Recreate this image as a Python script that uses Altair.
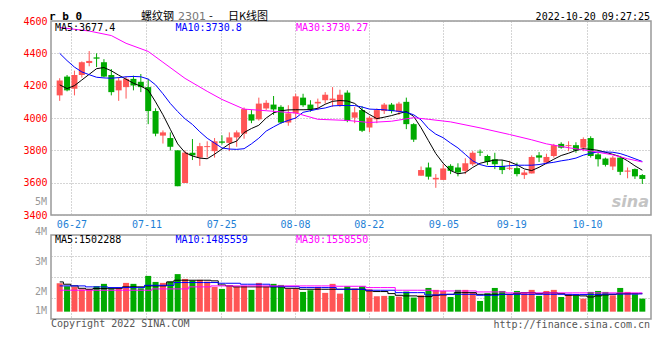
import json
import altair as alt
import pandas as pd

# ---------------- data ----------------
date_labels = ["06-27", "07-11", "07-25", "08-08", "08-22", "09-05", "09-19", "10-10"]
date_slots = [2.09, 12.27, 22.4, 32.4, 42.4, 52.53, 61.73, 72.0]

open_p = [4140, 4256, 4181, 4266, 4340, 4375, 4345, 4266, 4171, 4191,
          4242, 4224, 4191, 4043, 3891, 3876, 3800, 3598, 3785, 3755,
          3820, 3795, 3855, 3846, 3880, 3903, 4023, 3992, 4059, 4083,
          4069, 3972, 4029, 4126, 4083, 4090, 4110, 4110, 4079, 4157,
          4002, 4049, 3941, 3992, 4043, 4083, 4039, 4100, 3962, 3643,
          3694, 3620, 3617, 3704, 3694, 3673, 3714, 3792, 3765, 3745,
          3704, 3686, 3690, 3647, 3657, 3769, 3724, 3765, 3840, 3826,
          3832, 3816, 3876, 3775, 3749, 3700, 3755, 3668, 3684, 3647]
high_p = [4246, 4266, 4293, 4350, 4414, 4400, 4364, 4303, 4252, 4256,
          4262, 4272, 4242, 4060, 3923, 3911, 3800, 3800, 3870, 3846,
          3856, 3876, 3893, 3911, 3923, 4065, 4049, 4126, 4110, 4136,
          4079, 4079, 4150, 4150, 4110, 4120, 4160, 4191, 4175, 4171,
          4069, 4073, 4012, 4059, 4093, 4093, 4100, 4126, 3968, 3700,
          3724, 3653, 3714, 3714, 3720, 3751, 3795, 3805, 3773, 3785,
          3740, 3735, 3724, 3678, 3769, 3789, 3779, 3840, 3850, 3856,
          3850, 3880, 3887, 3785, 3755, 3765, 3765, 3694, 3688, 3653]
low_p = [4106, 4165, 4140, 4250, 4320, 4315, 4252, 4140, 4106, 4120,
         4171, 4160, 3962, 3887, 3842, 3799, 3578, 3598, 3740, 3704,
         3755, 3755, 3836, 3795, 3822, 3872, 3968, 3984, 4049, 4019,
         3964, 3952, 3992, 4069, 4039, 4049, 4089, 4069, 4069, 3974,
         3968, 3913, 3913, 3968, 4025, 4029, 4019, 3931, 3852, 3643,
         3619, 3568, 3617, 3653, 3639, 3653, 3704, 3765, 3708, 3684,
         3653, 3678, 3639, 3623, 3657, 3728, 3714, 3755, 3810, 3795,
         3785, 3795, 3755, 3700, 3700, 3678, 3647, 3627, 3623, 3592]
close_p = [4232, 4171, 4266, 4345, 4353, 4367, 4256, 4160, 4232, 4242,
           4201, 4191, 4043, 3903, 3911, 3822, 3578, 3786, 3769, 3826,
           3826, 3856, 3847, 3880, 3911, 4055, 3984, 4089, 4094, 4053,
           3972, 4029, 4134, 4079, 4053, 4100, 4144, 4120, 4144, 3982,
           4035, 3921, 4002, 4049, 4083, 4043, 4089, 3962, 3866, 3678,
           3637, 3630, 3688, 3673, 3663, 3720, 3785, 3786, 3728, 3714,
           3678, 3692, 3653, 3663, 3759, 3755, 3759, 3832, 3816, 3832,
           3799, 3870, 3765, 3745, 3710, 3755, 3667, 3675, 3639, 3623]

ma5 = [4205, 4182, 4200, 4235, 4270, 4305, 4312, 4292, 4265, 4240,
       4215, 4197, 4173, 4100, 4020, 3930, 3840, 3786, 3765, 3752,
       3748, 3776, 3808, 3840, 3857, 3910, 3935, 3955, 4000, 4032,
       4045, 4050, 4051, 4051, 4052, 4060, 4085, 4103, 4108, 4105,
       4090, 4050, 4022, 3996, 4005, 4015, 4028, 4040, 4010, 3940,
       3860, 3780, 3720, 3675, 3655, 3662, 3694, 3720, 3731, 3740,
       3740, 3729, 3710, 3685, 3675, 3695, 3720, 3745, 3768, 3782,
       3800, 3810, 3806, 3800, 3788, 3775, 3761, 3735, 3704, 3677]
ma10 = [4400, 4355, 4315, 4285, 4268, 4252, 4248, 4246, 4250, 4255,
        4257, 4255, 4241, 4205, 4150, 4090, 4040, 3995, 3960, 3915,
        3875, 3845, 3815, 3808, 3806, 3810, 3840, 3875, 3919, 3945,
        3969, 3985, 4000, 4035, 4045, 4055, 4062, 4075, 4077, 4077,
        4077, 4068, 4055, 4053, 4051, 4046, 4041, 4035, 4020, 3988,
        3935, 3900, 3878, 3845, 3815, 3775, 3735, 3712, 3700, 3700,
        3700, 3705, 3708, 3708, 3708, 3712, 3720, 3726, 3735, 3742,
        3752, 3770, 3782, 3790, 3790, 3788, 3780, 3765, 3748, 3731]
ma30_slot = [0, 4, 7, 9, 12, 14, 17, 20, 22, 25, 28, 32, 35, 39, 42, 45, 48, 50,
             53, 57, 61, 64, 66, 69, 72, 75, 77, 79]
ma30 = [4560, 4538, 4510, 4462, 4412, 4345, 4245, 4165, 4115, 4055, 4045, 4031,
        3992, 3985, 3972, 3980, 4002, 3992, 3976, 3939, 3898, 3865, 3840, 3816,
        3796, 3772, 3748, 3728]

volume_m = [2.36, 2.11, 2.06, 1.86, 1.89, 2.11, 2.31, 1.92, 1.94, 2.39,
            2.31, 1.94, 2.97, 2.47, 2.39, 2.50, 3.12, 2.72, 2.58, 2.64,
            2.50, 2.06, 1.89, 2.17, 2.08, 2.14, 1.81, 2.39, 2.06, 2.31,
            2.22, 1.89, 1.92, 1.64, 1.78, 2.06, 1.56, 2.31, 1.50, 2.11,
            1.92, 2.11, 1.86, 1.28, 1.31, 1.31, 1.25, 1.67, 1.17, 1.36,
            1.97, 1.81, 1.72, 1.22, 1.81, 1.81, 1.58, 0.89, 1.53, 1.97,
            1.72, 1.39, 1.72, 1.56, 1.81, 1.31, 1.72, 1.81, 1.22, 1.44,
            1.33, 1.08, 1.64, 1.72, 1.64, 1.36, 1.97, 1.64, 1.44, 1.08]
vma5 = [2.47, 2.28, 2.14, 1.94, 1.86, 1.92, 1.92, 1.94, 1.94, 2.06,
        2.06, 2.06, 2.14, 2.14, 2.14, 2.47, 2.61, 2.61, 2.61, 2.61,
        2.61, 2.56, 2.22, 2.14, 2.06, 2.06, 2.06, 2.06, 2.06, 2.06,
        2.06, 1.94, 1.94, 1.86, 1.86, 1.86, 1.86, 1.86, 1.86, 1.86,
        1.86, 1.86, 1.72, 1.67, 1.67, 1.50, 1.36, 1.31, 1.31, 1.25,
        1.25, 1.36, 1.39, 1.44, 1.58, 1.58, 1.58, 1.44, 1.44, 1.44,
        1.44, 1.44, 1.50, 1.58, 1.58, 1.50, 1.56, 1.56, 1.50, 1.36,
        1.36, 1.31, 1.22, 1.31, 1.39, 1.44, 1.50, 1.50, 1.50, 1.50]
vma10 = [2.14, 2.14, 2.14, 2.14, 2.06, 2.06, 2.06, 2.00, 2.00, 2.00,
         2.00, 2.00, 2.19, 2.19, 2.19, 2.19, 2.42, 2.42, 2.42, 2.42,
         2.42, 2.42, 2.36, 2.36, 2.36, 2.28, 2.28, 2.28, 2.28, 2.08,
         2.08, 2.08, 2.08, 2.00, 2.00, 2.00, 2.00, 2.00, 1.86, 1.86,
         1.86, 1.86, 1.78, 1.78, 1.78, 1.78, 1.58, 1.58, 1.58, 1.58,
         1.39, 1.39, 1.44, 1.44, 1.44, 1.44, 1.44, 1.36, 1.36, 1.36,
         1.44, 1.44, 1.44, 1.44, 1.44, 1.44, 1.44, 1.44, 1.44, 1.44,
         1.42, 1.42, 1.42, 1.42, 1.46, 1.46, 1.46, 1.46, 1.46, 1.48]
vma30 = [1.78, 1.78, 1.78, 1.78, 1.78, 1.78, 1.78, 1.78, 1.78, 1.78,
         1.78, 1.78, 1.78, 1.89, 1.89, 1.89, 1.89, 1.89, 2.06, 2.06,
         2.06, 2.14, 2.14, 2.14, 2.14, 2.14, 2.14, 2.14, 2.14, 2.14,
         2.14, 2.14, 2.14, 2.14, 2.14, 2.14, 2.14, 2.14, 2.11, 2.11,
         2.11, 2.11, 2.00, 2.00, 2.00, 2.00, 1.78, 1.78, 1.78, 1.78,
         1.78, 1.72, 1.72, 1.72, 1.72, 1.72, 1.72, 1.64, 1.64, 1.64,
         1.64, 1.56, 1.56, 1.56, 1.56, 1.56, 1.56, 1.56, 1.56, 1.56,
         1.56, 1.56, 1.56, 1.56, 1.56, 1.56, 1.56, 1.56, 1.56, 1.56]

price_ticks = [3400, 3600, 3800, 4000, 4200, 4400, 4600]
price_legend = ["MA5:3677.4", "MA10:3730.8", "MA30:3730.27"]
vol_legend = ["MA5:1502288", "MA10:1485559", "MA30:1558550"]
vol_labels = ["5M", "4M", "3M", "2M", "1M"]

# ---------------- styling ----------------
RED = "#FF5555"
GREEN = "#00AA00"
LINE_COLORS = ["#000000", "#0000FF", "#FF00FF"]
MONO = "DejaVu Sans Mono"
CJK = "Noto Sans CJK SC"
GRID = "#AAAAAA"
W, HP, HV = 600, 194, 84

n = len(close_p)
xs_list = [i + 0.5 for i in range(n)]
df = pd.DataFrame({
    "x": xs_list, "open": open_p, "high": high_p, "low": low_p,
    "close": close_p, "vol": volume_m, "base": [0.0] * n,
})
df["dir"] = ["up" if c >= o else "down" for o, c in zip(open_p, close_p)]

color_enc = alt.Color("dir:N", scale=alt.Scale(domain=["up", "down"], range=[RED, GREEN]), legend=None)
xscale = alt.Scale(domain=[0, 80], nice=False, zero=False)
yscale = alt.Scale(domain=[3400, 4600], nice=False, zero=False)
vscale = alt.Scale(domain=[-0.61, 6.37], nice=False, zero=False)

label_expr = "%s[indexof(%s, datum.value)]" % (json.dumps(date_labels), json.dumps(date_slots))

x_axis_price = alt.Axis(values=date_slots, labelExpr=label_expr, grid=True, ticks=False,
                        domain=False, labelColor="#1E7FD6", labelFont=MONO, labelFontSize=10,
                        labelPadding=4, title=None, labelOverlap=False, labelFlush=False,
                        gridColor=GRID, gridDash=[1, 2])
y_axis_price = alt.Axis(values=price_ticks, format="d", grid=True, ticks=False, domain=False,
                        labelColor="#FF0000", labelFont=MONO, labelFontSize=10,
                        labelPadding=4, title=None, labelOverlap=False, labelBound=False,
                        labelFlush=False, gridColor=GRID, gridDash=[1, 2])
x_axis_vol = alt.Axis(values=date_slots, labels=False, grid=True, ticks=False, domain=False,
                      title=None, gridColor=GRID, gridDash=[1, 2])
vol_grid = [-0.61 + (6.98 / 4) * k for k in (1, 2, 3)]
y_axis_vol = alt.Axis(values=vol_grid, labels=False, grid=True, ticks=False, domain=False,
                      title=None, gridColor=GRID, gridDash=[1, 2])


def txt(s, px, py, color, size=10, font=MONO, align="left", weight="normal", style="normal"):
    return alt.Chart(pd.DataFrame({"t": [s]})).mark_text(
        align=align, baseline="middle", font=font, fontSize=size, fontWeight=weight,
        fontStyle=style, color=color
    ).encode(text="t:N", x=alt.value(px), y=alt.value(py))


base = alt.Chart(df)
wick = base.mark_rule(strokeWidth=1).encode(
    x=alt.X("x:Q", scale=xscale, axis=x_axis_price),
    y=alt.Y("low:Q", scale=yscale, axis=y_axis_price),
    y2="high:Q",
    color=color_enc,
)
body = base.mark_bar(size=6).encode(
    x=alt.X("x:Q", scale=xscale, axis=x_axis_price),
    y=alt.Y("open:Q", scale=yscale, axis=y_axis_price),
    y2="close:Q",
    color=color_enc,
)

ma_series = [(xs_list, ma5), (xs_list, ma10), ([s + 0.5 for s in ma30_slot], ma30)]
ma_layers = []
for (xv, yv), col in zip(ma_series, LINE_COLORS):
    ma_layers.append(
        alt.Chart(pd.DataFrame({"x": xv, "v": yv})).mark_line(strokeWidth=1, color=col)
        .encode(x=alt.X("x:Q", scale=xscale, axis=x_axis_price),
                y=alt.Y("v:Q", scale=yscale, axis=y_axis_price))
    )

TY = -4.5
price_texts = [txt(t, 4 + 120.5 * k, 6.5, c) for k, (t, c) in enumerate(zip(price_legend, LINE_COLORS))]
price_texts += [
    txt("r b 0", -2, TY, "#000000", size=11, weight="bold"),
    txt("螺纹钢", 90, TY, "#000000", size=11, font=CJK),
    txt("2301", 127, TY, "#777777", size=11, font="DejaVu Sans"),
    txt("-", 158, TY, "#000000", size=11, font=CJK),
    txt("日K线图", 177, TY, "#000000", size=11, font=CJK),
    txt("2022-10-20 09:27:25", 599, TY, "#000000", align="right"),
    txt("sina", 598, 181, "#C4C4C4", size=16, font="DejaVu Sans", align="right",
        weight="bold", style="italic"),
]

price = alt.layer(wick, body, *ma_layers, *price_texts).properties(width=W, height=HP)

vbase = alt.Chart(df)
vbars = vbase.mark_bar(size=6).encode(
    x=alt.X("x:Q", scale=xscale, axis=x_axis_vol),
    y=alt.Y("vol:Q", scale=vscale, axis=y_axis_vol),
    y2="base:Q",
    color=color_enc,
)
vma_layers = []
for yv, col in zip([vma5, vma10, vma30], LINE_COLORS):
    vma_layers.append(
        alt.Chart(pd.DataFrame({"x": xs_list, "v": yv}))
        .mark_line(strokeWidth=1, color=col, interpolate="step")
        .encode(x=alt.X("x:Q", scale=xscale, axis=x_axis_vol),
                y=alt.Y("v:Q", scale=vscale, axis=y_axis_vol))
    )
vol_label_py = [-33, -3, 27, 56.5, 76]
vol_texts = [txt(t, 4 + 120.5 * k, 4.5, c) for k, (t, c) in enumerate(zip(vol_legend, LINE_COLORS))]
vol_texts += [txt(t, -4, py, "#999999", align="right") for t, py in zip(vol_labels, vol_label_py)]
vol_texts += [
    txt("Copyright 2022 SINA.COM", 0, 89, "#555555"),
    txt("http://finance.sina.com.cn", 599, 89.5, "#555555", align="right"),
]
vol = alt.layer(vbars, *vma_layers, *vol_texts).properties(width=W, height=HV)

chart = (
    alt.vconcat(price, vol, spacing=20, bounds="flush")
    .properties(padding={"left": 14, "top": 1, "right": 0, "bottom": 0}, background="#FFFFFF")
    .configure_view(stroke="#999999", strokeWidth=1.5)
)

chart.save("out.html", embed_options={"renderer": "svg", "actions": False})
